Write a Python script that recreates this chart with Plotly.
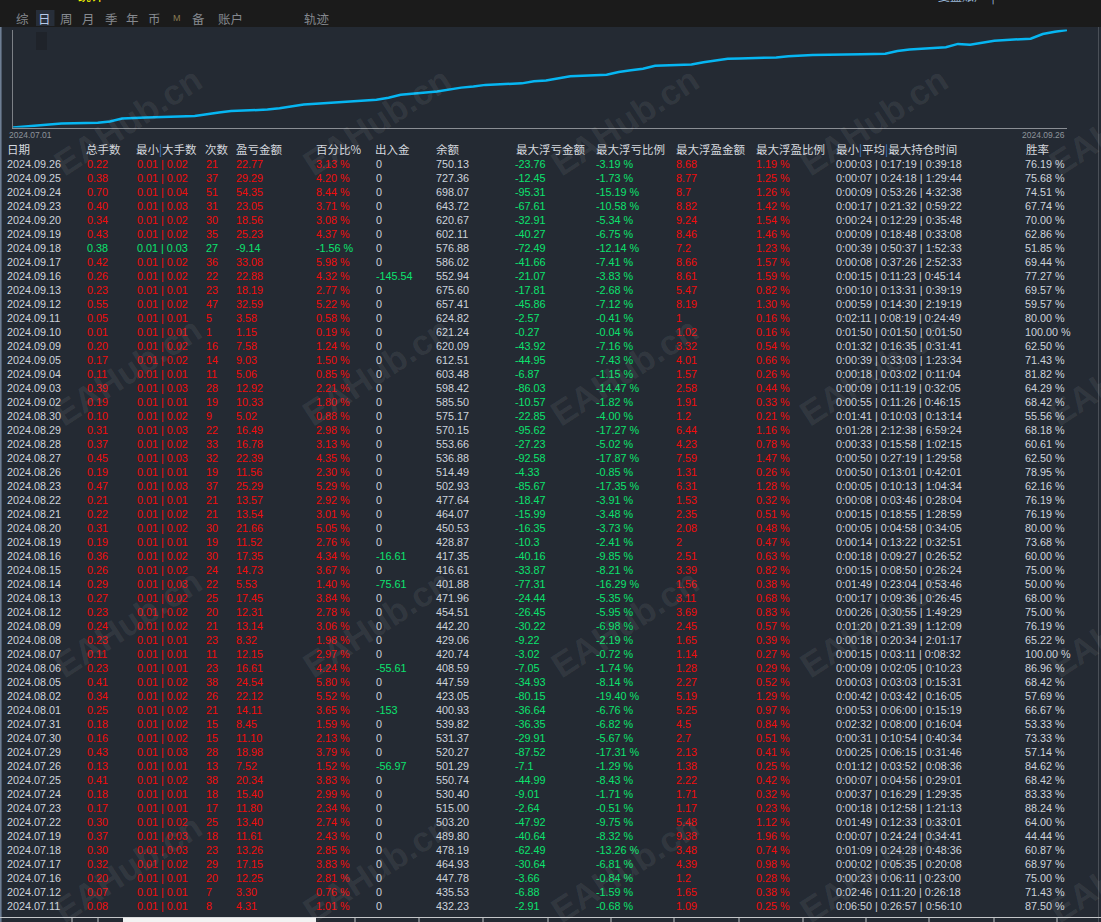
import pandas as pd
import plotly.graph_objects as go

W, H = 1101, 922

# ---------------------------------------------------------------------------
# Daily report rows (newest first, as listed in the table)
# ---------------------------------------------------------------------------
dates = [
    "2024.09.26", "2024.09.25", "2024.09.24", "2024.09.23", "2024.09.20", "2024.09.19",
    "2024.09.18", "2024.09.17", "2024.09.16", "2024.09.13", "2024.09.12", "2024.09.11",
    "2024.09.10", "2024.09.09", "2024.09.05", "2024.09.04", "2024.09.03", "2024.09.02",
    "2024.08.30", "2024.08.29", "2024.08.28", "2024.08.27", "2024.08.26", "2024.08.23",
    "2024.08.22", "2024.08.21", "2024.08.20", "2024.08.19", "2024.08.16", "2024.08.15",
    "2024.08.14", "2024.08.13", "2024.08.12", "2024.08.09", "2024.08.08", "2024.08.07",
    "2024.08.06", "2024.08.05", "2024.08.02", "2024.08.01", "2024.07.31", "2024.07.30",
    "2024.07.29", "2024.07.26", "2024.07.25", "2024.07.24", "2024.07.23", "2024.07.22",
    "2024.07.19", "2024.07.18", "2024.07.17", "2024.07.16", "2024.07.12", "2024.07.11",
]
total_lots = [
    "0.22", "0.38", "0.70", "0.40", "0.34", "0.43", "0.38", "0.42", "0.26", "0.23", "0.55", "0.05",
    "0.01", "0.20", "0.17", "0.11", "0.39", "0.19", "0.10", "0.31", "0.37", "0.45", "0.19", "0.47",
    "0.21", "0.22", "0.31", "0.19", "0.36", "0.26", "0.29", "0.27", "0.23", "0.24", "0.23", "0.11",
    "0.23", "0.41", "0.34", "0.25", "0.18", "0.16", "0.43", "0.13", "0.41", "0.18", "0.17", "0.30",
    "0.37", "0.30", "0.32", "0.20", "0.07", "0.08",
]
lot_range = [
    "0.01|0.02", "0.01|0.02", "0.01|0.04", "0.01|0.03", "0.01|0.02", "0.01|0.02",
    "0.01|0.03", "0.01|0.02", "0.01|0.02", "0.01|0.01", "0.01|0.02", "0.01|0.01",
    "0.01|0.01", "0.01|0.02", "0.01|0.02", "0.01|0.01", "0.01|0.03", "0.01|0.01",
    "0.01|0.02", "0.01|0.03", "0.01|0.02", "0.01|0.03", "0.01|0.01", "0.01|0.03",
    "0.01|0.01", "0.01|0.02", "0.01|0.02", "0.01|0.01", "0.01|0.02", "0.01|0.02",
    "0.01|0.03", "0.01|0.02", "0.01|0.02", "0.01|0.02", "0.01|0.01", "0.01|0.01",
    "0.01|0.01", "0.01|0.02", "0.01|0.02", "0.01|0.02", "0.01|0.02", "0.01|0.02",
    "0.01|0.03", "0.01|0.01", "0.01|0.02", "0.01|0.01", "0.01|0.01", "0.01|0.02",
    "0.01|0.03", "0.01|0.03", "0.01|0.02", "0.01|0.01", "0.01|0.01", "0.01|0.01",
]
trades = [
    "21", "37", "51", "31", "30", "35", "27", "36", "22", "23", "47", "5",
    "1", "16", "14", "11", "28", "19", "9", "22", "33", "32", "19", "37",
    "21", "21", "30", "19", "30", "24", "22", "25", "20", "21", "23", "11",
    "23", "38", "26", "21", "15", "15", "28", "13", "38", "18", "17", "25",
    "18", "23", "29", "20", "7", "8",
]
pnl = [
    "22.77", "29.29", "54.35", "23.05", "18.56", "25.23", "-9.14", "33.08", "22.88", "18.19", "32.59", "3.58",
    "1.15", "7.58", "9.03", "5.06", "12.92", "10.33", "5.02", "16.49", "16.78", "22.39", "11.56", "25.29",
    "13.57", "13.54", "21.66", "11.52", "17.35", "14.73", "5.53", "17.45", "12.31", "13.14", "8.32", "12.15",
    "16.61", "24.54", "22.12", "14.11", "8.45", "11.10", "18.98", "7.52", "20.34", "15.40", "11.80", "13.40",
    "11.61", "13.26", "17.15", "12.25", "3.30", "4.31",
]
pnl_pct = [
    "3.13", "4.20", "8.44", "3.71", "3.08", "4.37", "-1.56", "5.98", "4.32", "2.77", "5.22", "0.58",
    "0.19", "1.24", "1.50", "0.85", "2.21", "1.80", "0.88", "2.98", "3.13", "4.35", "2.30", "5.29",
    "2.92", "3.01", "5.05", "2.76", "4.34", "3.67", "1.40", "3.84", "2.78", "3.06", "1.98", "2.97",
    "4.24", "5.80", "5.52", "3.65", "1.59", "2.13", "3.79", "1.52", "3.83", "2.99", "2.34", "2.74",
    "2.43", "2.85", "3.83", "2.81", "0.76", "1.01",
]
cash_flow = [
    "0", "0", "0", "0", "0", "0", "0", "0", "-145.54", "0", "0", "0",
    "0", "0", "0", "0", "0", "0", "0", "0", "0", "0", "0", "0",
    "0", "0", "0", "0", "-16.61", "0", "-75.61", "0", "0", "0", "0", "0",
    "-55.61", "0", "0", "-153", "0", "0", "0", "-56.97", "0", "0", "0", "0",
    "0", "0", "0", "0", "0", "0",
]
balance = [
    "750.13", "727.36", "698.07", "643.72", "620.67", "602.11", "576.88", "586.02", "552.94", "675.60",
    "657.41", "624.82", "621.24", "620.09", "612.51", "603.48", "598.42", "585.50", "575.17", "570.15",
    "553.66", "536.88", "514.49", "502.93", "477.64", "464.07", "450.53", "428.87", "417.35", "416.61",
    "401.88", "471.96", "454.51", "442.20", "429.06", "420.74", "408.59", "447.59", "423.05", "400.93",
    "539.82", "531.37", "520.27", "501.29", "550.74", "530.40", "515.00", "503.20", "489.80", "478.19",
    "464.93", "447.78", "435.53", "432.23",
]
max_float_loss = [
    "-23.76", "-12.45", "-95.31", "-67.61", "-32.91", "-40.27", "-72.49", "-41.66", "-21.07", "-17.81",
    "-45.86", "-2.57", "-0.27", "-43.92", "-44.95", "-6.87", "-86.03", "-10.57", "-22.85", "-95.62",
    "-27.23", "-92.58", "-4.33", "-85.67", "-18.47", "-15.99", "-16.35", "-10.3", "-40.16", "-33.87",
    "-77.31", "-24.44", "-26.45", "-30.22", "-9.22", "-3.02", "-7.05", "-34.93", "-80.15", "-36.64",
    "-36.35", "-29.91", "-87.52", "-7.1", "-44.99", "-9.01", "-2.64", "-47.92", "-40.64", "-62.49",
    "-30.64", "-3.66", "-6.88", "-2.91",
]
max_float_loss_pct = [
    "-3.19", "-1.73", "-15.19", "-10.58", "-5.34", "-6.75", "-12.14", "-7.41", "-3.83", "-2.68",
    "-7.12", "-0.41", "-0.04", "-7.16", "-7.43", "-1.15", "-14.47", "-1.82", "-4.00", "-17.27",
    "-5.02", "-17.87", "-0.85", "-17.35", "-3.91", "-3.48", "-3.73", "-2.41", "-9.85", "-8.21",
    "-16.29", "-5.35", "-5.95", "-6.98", "-2.19", "-0.72", "-1.74", "-8.14", "-19.40", "-6.76",
    "-6.82", "-5.67", "-17.31", "-1.29", "-8.43", "-1.71", "-0.51", "-9.75", "-8.32", "-13.26",
    "-6.81", "-0.84", "-1.59", "-0.68",
]
max_float_gain = [
    "8.68", "8.77", "8.7", "8.82", "9.24", "8.46", "7.2", "8.66", "8.61", "5.47", "8.19", "1",
    "1.02", "3.32", "4.01", "1.57", "2.58", "1.91", "1.2", "6.44", "4.23", "7.59", "1.31", "6.31",
    "1.53", "2.35", "2.08", "2", "2.51", "3.39", "1.56", "3.11", "3.69", "2.45", "1.65", "1.14",
    "1.28", "2.27", "5.19", "5.25", "4.5", "2.7", "2.13", "1.38", "2.22", "1.71", "1.17", "5.48",
    "9.38", "3.48", "4.39", "1.2", "1.65", "1.09",
]
max_float_gain_pct = [
    "1.19", "1.25", "1.26", "1.42", "1.54", "1.46", "1.23", "1.57", "1.59", "0.82", "1.30", "0.16",
    "0.16", "0.54", "0.66", "0.26", "0.44", "0.33", "0.21", "1.16", "0.78", "1.47", "0.26", "1.28",
    "0.32", "0.51", "0.48", "0.47", "0.63", "0.82", "0.38", "0.68", "0.83", "0.57", "0.39", "0.27",
    "0.29", "0.52", "1.29", "0.97", "0.84", "0.51", "0.41", "0.25", "0.42", "0.32", "0.23", "1.12",
    "1.96", "0.74", "0.98", "0.28", "0.38", "0.25",
]
hold_time = [
    "0:00:03|0:17:19|0:39:18", "0:00:07|0:24:18|1:29:44", "0:00:09|0:53:26|4:32:38",
    "0:00:17|0:21:32|0:59:22", "0:00:24|0:12:29|0:35:48", "0:00:09|0:18:48|0:33:08",
    "0:00:39|0:50:37|1:52:33", "0:00:08|0:37:26|2:52:33", "0:00:15|0:11:23|0:45:14",
    "0:00:10|0:13:31|0:39:19", "0:00:59|0:14:30|2:19:19", "0:02:11|0:08:19|0:24:49",
    "0:01:50|0:01:50|0:01:50", "0:01:32|0:16:35|0:31:41", "0:00:39|0:33:03|1:23:34",
    "0:00:18|0:03:02|0:11:04", "0:00:09|0:11:19|0:32:05", "0:00:55|0:11:26|0:46:15",
    "0:01:41|0:10:03|0:13:14", "0:01:28|2:12:38|6:59:24", "0:00:33|0:15:58|1:02:15",
    "0:00:50|0:27:19|1:29:58", "0:00:50|0:13:01|0:42:01", "0:00:05|0:10:13|1:04:34",
    "0:00:08|0:03:46|0:28:04", "0:00:15|0:18:55|1:28:59", "0:00:05|0:04:58|0:34:05",
    "0:00:14|0:13:22|0:32:51", "0:00:18|0:09:27|0:26:52", "0:00:15|0:08:50|0:26:24",
    "0:01:49|0:23:04|0:53:46", "0:00:17|0:09:36|0:26:45", "0:00:26|0:30:55|1:49:29",
    "0:01:20|0:21:39|1:12:09", "0:00:18|0:20:34|2:01:17", "0:00:15|0:03:11|0:08:32",
    "0:00:09|0:02:05|0:10:23", "0:00:03|0:03:03|0:15:31", "0:00:42|0:03:42|0:16:05",
    "0:00:53|0:06:00|0:15:19", "0:02:32|0:08:00|0:16:04", "0:00:31|0:10:54|0:40:34",
    "0:00:25|0:06:15|0:31:46", "0:01:12|0:03:52|0:08:36", "0:00:07|0:04:56|0:29:01",
    "0:00:37|0:16:29|1:29:35", "0:00:18|0:12:58|1:21:13", "0:01:49|0:12:33|0:33:01",
    "0:00:07|0:24:24|0:34:41", "0:01:09|0:24:28|0:48:36", "0:00:02|0:05:35|0:20:08",
    "0:00:23|0:06:11|0:23:00", "0:02:46|0:11:20|0:26:18", "0:06:50|0:26:57|0:56:10",
]
win_rate = [
    "76.19", "75.68", "74.51", "67.74", "70.00", "62.86", "51.85", "69.44", "77.27", "69.57",
    "59.57", "80.00", "100.00", "62.50", "71.43", "81.82", "64.29", "68.42", "55.56", "68.18",
    "60.61", "62.50", "78.95", "62.16", "76.19", "76.19", "80.00", "73.68", "60.00", "75.00",
    "50.00", "68.00", "75.00", "76.19", "65.22", "100.00", "86.96", "68.42", "57.69", "66.67",
    "53.33", "73.33", "57.14", "84.62", "68.42", "83.33", "88.24", "64.00", "44.44", "60.87",
    "68.97", "75.00", "71.43", "87.50",
]

# days before 2024.07.11 are scrolled out of the table: % estimated from the curve
early_dates = ["2024.07.01", "2024.07.02", "2024.07.03", "2024.07.04",
               "2024.07.05", "2024.07.08", "2024.07.09", "2024.07.10"]
early_pct = [1.9, 1.8, 2.3, 1.5, 1.7, 1.5, 2.2, 5.5]

headers = ["日期", "总手数", "最小|大手数", "次数", "盈亏金额", "百分比%", "出入金", "余额",
           "最大浮亏金额", "最大浮亏比例", "最大浮盈金额", "最大浮盈比例", "最小|平均|最大持仓时间", "胜率"]
tabs = ["综", "日", "周", "月", "季", "年", "币", "M", "备", "账户", "轨迹"]

# ---------------------------------------------------------------------------
# Look
# ---------------------------------------------------------------------------
BG      = "#242a33"
TOPBAR  = "#1b1b1b"
LIGHT   = "#cdd3dc"
RED     = "#f20c0c"
GREEN   = "#0be36e"
AXIS    = "#8a8e94"
CJK     = "Noto Sans CJK SC, sans-serif"
LATIN   = "Liberation Sans, Arial, sans-serif"

ROW0, ROW_H = 165, 14          # centre of first row / row pitch (px)
COL_X   = [7, 87, 137, 206, 236, 316, 376, 436, 515, 596, 676, 756, 836, 1025]
HEAD_X  = [7, 86, 136, 205, 236, 316, 375, 436, 516, 596, 676, 756, 836, 1026]
TAB_X   = [22.5, 44.3, 66.7, 88, 111, 132.5, 154.7, 176.7, 198.5, 230, 316.7]


def fx(px):
    return px / W


def fy(py):
    return 1 - py / H


def row_y(py):
    return (py - ROW0) / ROW_H


# ---------------------------------------------------------------------------
# Equity curve: cumulative daily % (chronological)
# ---------------------------------------------------------------------------
chron_dates = early_dates + dates[::-1]
chron_pct = early_pct + [float(p) for p in pnl_pct[::-1]]
curve = pd.Series(chron_pct, index=pd.to_datetime(chron_dates, format="%Y.%m.%d")).cumsum()

fig = go.Figure()
fig.add_trace(go.Scatter(
    x=curve.index, y=curve.values, mode="lines",
    line=dict(color="#06b6f2", width=2.5), hoverinfo="skip",
    xaxis="x", yaxis="y",
))

# ---------------------------------------------------------------------------
# Table: one text trace per column
# ---------------------------------------------------------------------------
n = len(dates)
rows = list(range(n))
side = [RED if float(v) > 0 else GREEN for v in pnl]
columns = [
    (dates, [LIGHT] * n),
    (total_lots, side),
    ([s.replace("|", " | ") for s in lot_range], side),
    (trades, side),
    (pnl, side),
    ([p + " %" for p in pnl_pct], side),
    (cash_flow, [GREEN if float(c) < 0 else LIGHT for c in cash_flow]),
    (balance, [LIGHT] * n),
    (max_float_loss, [GREEN] * n),
    ([p + " %" for p in max_float_loss_pct], [GREEN] * n),
    (max_float_gain, [RED] * n),
    ([p + " %" for p in max_float_gain_pct], [RED] * n),
    ([h.replace("|", " | ") for h in hold_time], [LIGHT] * n),
    ([w + " %" for w in win_rate], [LIGHT] * n),
]
for cx, (texts, colors) in zip(COL_X, columns):
    fig.add_trace(go.Scatter(
        x=[cx] * n, y=rows, text=texts, mode="text", textposition="middle right",
        textfont=dict(family=LATIN, size=10.8, color=colors),
        hoverinfo="skip", cliponaxis=False, xaxis="x2", yaxis="y2",
    ))

head_txt = [h.replace("|", '<span style="color:#3f7fd6">|</span>') for h in headers]
fig.add_trace(go.Scatter(
    x=HEAD_X, y=[row_y(151.5)] * len(headers), text=head_txt, mode="text",
    textposition="middle right", textfont=dict(family=CJK, size=11.5, color="#d4d8de"),
    hoverinfo="skip", cliponaxis=False, xaxis="x2", yaxis="y2",
))

# ---------------------------------------------------------------------------
# Chrome: top bar, tabs, borders, watermark
# ---------------------------------------------------------------------------
shapes = [
    dict(type="rect", xref="paper", yref="paper", x0=0, x1=1, y0=fy(27), y1=1,
         fillcolor=TOPBAR, line_width=0, layer="below"),
    dict(type="rect", xref="paper", yref="paper", x0=fx(36), x1=fx(54.5), y0=fy(26), y1=fy(10),
         fillcolor="#272e39", line_width=0, layer="below"),
    dict(type="rect", xref="paper", yref="paper", x0=fx(36), x1=fx(47), y0=fy(50), y1=fy(32),
         fillcolor="#1f232a", line_width=0, layer="below"),
    dict(type="line", xref="paper", yref="paper", x0=fx(0.8), x1=fx(0.8), y0=0, y1=fy(27),
         line=dict(color="#73839a", width=1.5)),
    dict(type="line", xref="paper", yref="paper", x0=fx(1098.5), x1=fx(1098.5), y0=0, y1=fy(27),
         line=dict(color="#4a4f57", width=1)),
    # partially visible next row at the bottom edge
    dict(type="line", xref="paper", yref="paper", x0=0, x1=1, y0=fy(917.5), y1=fy(917.5),
         line=dict(color="#c4c6c9", width=1)),
    dict(type="rect", xref="paper", yref="paper", x0=fx(123), x1=fx(316), y0=0, y1=fy(917.5),
         fillcolor="#f2f2f2", line_width=0),
]
for sx in [72, 98, 355, 419, 483, 548, 611, 674, 739, 803, 866, 929, 994, 1057]:
    shapes.append(dict(type="line", xref="paper", yref="paper", x0=fx(sx), x1=fx(sx),
                       y0=0, y1=fy(917.5), line=dict(color="#c4c6c9", width=1)))

annotations = []
for label, tx in zip(tabs, TAB_X):
    if label == "日":
        color, font = "#b5c9e8", CJK
    elif label == "M":
        color, font = "#8a7c55", LATIN
    else:
        color, font = "#85898f", CJK
    annotations.append(dict(
        text=label, x=fx(tx), y=fy(18.5), xref="paper", yref="paper", showarrow=False,
        xanchor="center", yanchor="middle",
        font=dict(family=font, size=9 if label == "M" else 12.5, color=color),
    ))
annotations += [
    dict(text="统计", x=fx(76), y=fy(-5.5), xref="paper", yref="paper", showarrow=False,
         xanchor="left", yanchor="middle", font=dict(family=CJK, size=13, color="#ffff00")),
    dict(text="复盘账户  |", x=fx(936), y=fy(-4.5), xref="paper", yref="paper", showarrow=False,
         xanchor="left", yanchor="middle", font=dict(family=CJK, size=12, color="#9ab8d8")),
    dict(text=chron_dates[0], x=fx(7), y=fy(135), xref="paper", yref="paper", showarrow=False,
         xanchor="left", yanchor="middle", font=dict(family=LATIN, size=8.5, color="#8d939b")),
    dict(text=chron_dates[-1], x=fx(1067), y=fy(135), xref="paper", yref="paper", showarrow=False,
         xanchor="right", yanchor="middle", font=dict(family=LATIN, size=8.5, color="#8d939b")),
]
for wy in [121, 372, 623, 868]:
    for wx in [127, 376, 624, 873, 1122]:
        annotations.append(dict(
            text="<b>EAHub.cn</b>", x=fx(wx), y=fy(wy), xref="paper", yref="paper",
            showarrow=False, textangle=-33, xanchor="center", yanchor="middle",
            font=dict(family=LATIN, size=35, color="rgba(255,255,255,0.075)"),
        ))

pad = (curve.max() - curve.min()) * 0.006
fig.update_layout(
    width=W, height=H, margin=dict(l=0, r=0, t=0, b=0),
    paper_bgcolor=BG, plot_bgcolor="rgba(0,0,0,0)", showlegend=False,
    xaxis=dict(domain=[fx(13), fx(1067)], range=[curve.index[0], curve.index[-1]], type="date",
               showline=True, linecolor=AXIS, linewidth=1, showgrid=False, zeroline=False,
               showticklabels=False, ticks="", fixedrange=True),
    yaxis=dict(domain=[fy(127.5), fy(29.5)], range=[curve.min(), curve.max() + pad],
               showline=True, linecolor="#7c8086", linewidth=1, showgrid=False, zeroline=False,
               showticklabels=False, ticks="", fixedrange=True),
    xaxis2=dict(domain=[0, 1], range=[0, W], visible=False, anchor="y2", fixedrange=True),
    yaxis2=dict(domain=[0, 1], range=[row_y(H), row_y(0)], visible=False, anchor="x2",
                fixedrange=True),
    shapes=shapes, annotations=annotations,
)

# the page's default body margin would push the figure 8px off the window edge
fig.write_html("out.html", config={"displayModeBar": False},
               post_script="document.body.style.margin='0';document.body.style.overflow='hidden';")
